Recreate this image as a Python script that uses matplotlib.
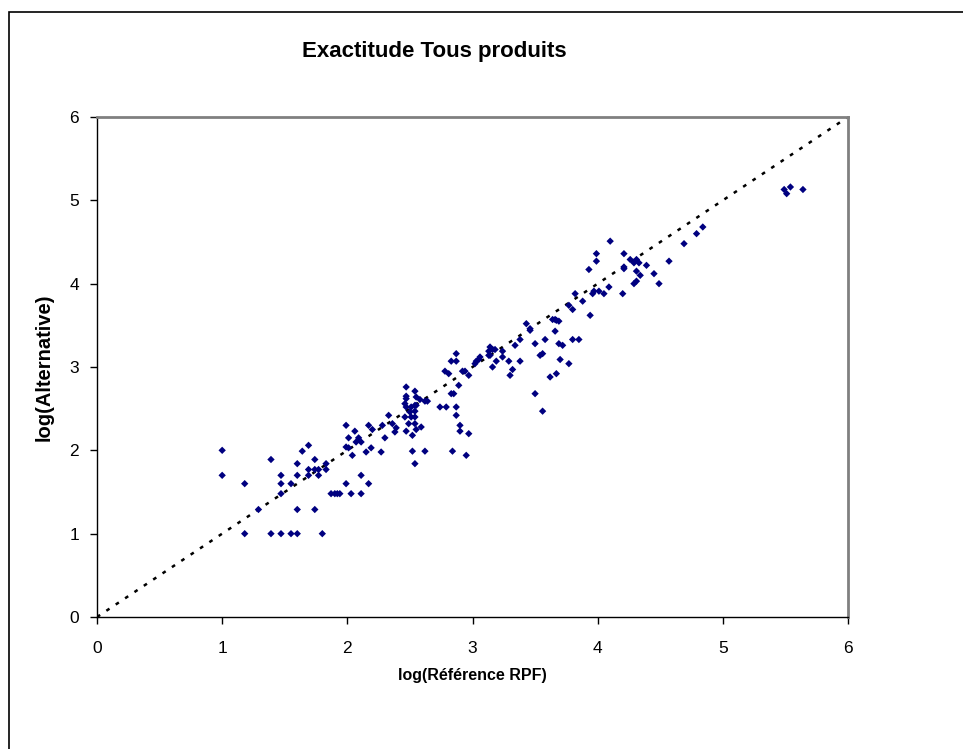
import matplotlib
matplotlib.use("Agg")
import matplotlib.pyplot as plt
from matplotlib.patches import Rectangle

plt.rcParams['font.family'] = ['Liberation Sans', 'DejaVu Sans']

title = "Exactitude Tous produits"
xlabel = "log(Référence RPF)"
ylabel = "log(Alternative)"
ticks = [0, 1, 2, 3, 4, 5, 6]

ref_x = [
    1.00, 1.00, 1.18, 1.18, 1.29, 1.39, 1.39, 1.47, 1.47, 1.47, 1.47, 1.55, 1.55,
    1.60, 1.60, 1.60, 1.60, 1.64, 1.69, 1.69, 1.69, 1.74, 1.74, 1.74, 1.77, 1.77,
    1.80, 1.83, 1.83, 1.87, 1.90, 1.92, 1.94, 1.99, 1.99, 2.01, 2.01, 1.99, 2.03,
    2.04, 2.06, 2.07, 2.09, 2.11, 2.11, 2.11, 2.15, 2.17, 2.17, 2.19, 2.20, 2.27,
    2.28, 2.30, 2.33, 2.36, 2.38, 2.39,
    2.47, 2.54, 2.47, 2.47, 2.55, 2.58, 2.62, 2.64, 2.46, 2.47, 2.51, 2.54, 2.55,
    2.54, 2.46, 2.51, 2.54, 2.49, 2.54, 2.47, 2.52, 2.55, 2.59, 2.52, 2.54, 2.62,
    2.50,
    2.74, 2.79, 2.78, 2.81, 2.83, 2.87, 2.87, 2.83, 2.85, 2.89, 2.87, 2.87, 2.90,
    2.90, 2.97, 2.84, 2.95, 2.92, 2.94, 2.97,
    3.02, 3.03, 3.05, 3.06, 3.13, 3.14, 3.16, 3.18, 3.13, 3.14, 3.16, 3.19, 3.24,
    3.24, 3.29, 3.32, 3.30, 3.34, 3.38, 3.38,
    3.43, 3.46, 3.46, 3.50, 3.50, 3.56, 3.54, 3.56, 3.58, 3.64, 3.66, 3.69, 3.67,
    3.66, 3.69, 3.72, 3.70, 3.67, 3.62, 3.77, 3.80, 3.85, 3.77, 3.80, 3.82, 3.88,
    3.94,
    4.10, 3.99, 3.99, 3.93, 4.21, 4.26, 4.29, 4.33, 4.31, 4.21, 4.21, 4.31, 4.34,
    4.29, 4.31, 4.39, 4.45, 4.49, 4.57, 4.69, 4.79, 4.84, 4.20, 4.09, 4.05, 3.96,
    3.97, 4.01,
    5.49, 5.51, 5.54, 5.64,
]
alt_y = [
    2.00, 1.70, 1.60, 1.00, 1.29, 1.89, 1.00, 1.70, 1.60, 1.48, 1.00, 1.60, 1.00,
    1.84, 1.70, 1.29, 1.00, 1.99, 2.06, 1.77, 1.70, 1.89, 1.77, 1.29, 1.77, 1.70,
    1.00, 1.84, 1.77, 1.48, 1.48, 1.48, 1.48, 2.30, 2.04, 2.03, 2.15, 1.60, 1.48,
    1.94, 2.23, 2.10, 2.15, 2.10, 1.70, 1.48, 1.98, 2.30, 1.60, 2.03, 2.25, 1.98,
    2.30, 2.15, 2.42, 2.32, 2.22, 2.27,
    2.76, 2.71, 2.65, 2.62, 2.64, 2.61, 2.59, 2.59, 2.56, 2.52, 2.52, 2.54, 2.54,
    2.47, 2.40, 2.40, 2.40, 2.32, 2.32, 2.23, 2.18, 2.25, 2.28, 1.99, 1.84, 1.99,
    2.46,
    2.52, 2.52, 2.95, 2.92, 3.07, 3.07, 3.16, 2.68, 2.68, 2.78, 2.52, 2.42, 2.30,
    2.23, 2.20, 1.99, 1.94, 2.95, 2.95, 2.90,
    3.04, 3.07, 3.09, 3.12, 3.19, 3.24, 3.21, 3.21, 3.14, 3.14, 3.00, 3.07, 3.19,
    3.12, 3.07, 2.97, 2.90, 3.26, 3.07, 3.33,
    3.52, 3.44, 3.46, 3.28, 2.68, 2.47, 3.14, 3.16, 3.33, 3.57, 3.57, 3.55, 3.56,
    3.43, 3.28, 3.26, 3.09, 2.92, 2.88, 3.04, 3.33, 3.33, 3.74, 3.69, 3.88, 3.79,
    3.62,
    4.51, 4.36, 4.27, 4.17, 4.36, 4.29, 4.25, 4.25, 4.29, 4.18, 4.20, 4.15, 4.10,
    4.00, 4.03, 4.22, 4.12, 4.00, 4.27, 4.48, 4.60, 4.68, 3.88, 3.96, 3.88, 3.88,
    3.91, 3.91,
    5.13, 5.08, 5.16, 5.13,
]
diag = [0, 6]

W, H = 963, 749
fig = plt.figure(figsize=(W / 100, H / 100), dpi=100)

# outer chart border
fig.patches.append(Rectangle((9 / W, -0.01), 1.2, 1 - 12 / H + 0.01,
                             transform=fig.transFigure, fill=False,
                             edgecolor='black', linewidth=1.2))

x0, x1, y0, y1 = 97, 848, 617, 117
ax = fig.add_axes([x0 / W, 1 - y0 / H, (x1 - x0) / W, (y0 - y1) / H])

ax.plot(diag, diag, color='black', linestyle=(0, (1.5, 3.0)), linewidth=1.8,
        zorder=2)
ax.scatter(ref_x, alt_y, marker='D', s=14, color='#000080', edgecolors='none',
           zorder=3)

ax.set_xlim(0, 6)
ax.set_ylim(0, 6)
ax.set_xticks(ticks)
ax.set_yticks(ticks)
ax.tick_params(direction='out', length=5, width=1, labelsize=12.5, color='black')
ax.tick_params(axis='x', pad=12)
ax.tick_params(axis='y', pad=8)
for s in ['top', 'right']:
    ax.spines[s].set_color('#808080')
    ax.spines[s].set_linewidth(2)
for s in ['left', 'bottom']:
    ax.spines[s].set_color('black')
    ax.spines[s].set_linewidth(1)

ax.set_xlabel(xlabel, fontsize=11.5, fontweight='bold', labelpad=9)
ax.set_ylabel(ylabel, fontsize=14.5, fontweight='bold', labelpad=11)

fig.text(434 / W, 1 - 51 / H, title, ha='center', va='center',
         fontsize=16, fontweight='bold')

fig.savefig('out.png', dpi=100)
